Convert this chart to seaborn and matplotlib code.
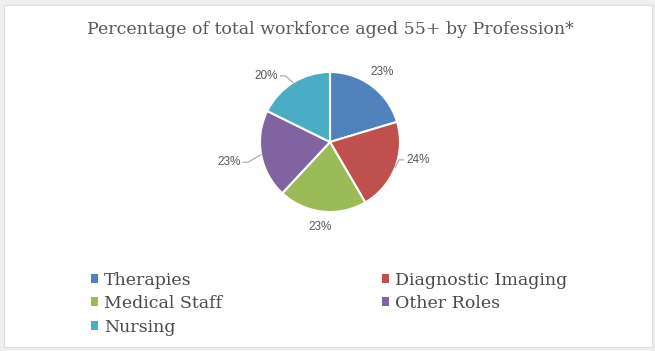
import numpy as np
import matplotlib
matplotlib.use("Agg")
import matplotlib.pyplot as plt
import seaborn as sns
from matplotlib.patches import Patch, Rectangle

professions = ["Therapies", "Diagnostic Imaging", "Medical Staff", "Other Roles", "Nursing"]
pct_aged_55 = [23, 24, 23, 23, 20]
colors = ["#4F81BD", "#C0504D", "#9BBB59", "#8064A2", "#4BACC6"]
title = "Percentage of total workforce aged 55+ by Profession*"

sns.set_theme(style="white")
plt.rcParams["font.family"] = ["DejaVu Serif"]

fig = plt.figure(figsize=(6.55, 3.51), dpi=100)
fig.patch.set_facecolor("#efefef")
fig.add_artist(Rectangle((4 / 655, 4 / 351), 648 / 655, 342 / 351,
                         transform=fig.transFigure, facecolor="white",
                         edgecolor="#dcdcdc", lw=0.8, zorder=0))

ax = fig.add_axes([260 / 655, 139 / 351, 140 / 655, 140 / 351])
wedges, _ = ax.pie(pct_aged_55, colors=colors, startangle=90, counterclock=False,
                   wedgeprops=dict(edgecolor="white", linewidth=1.5))
ax.set_xlim(-1, 1)
ax.set_ylim(-1, 1)
ax.set_aspect("equal")

# label placement: distance (in radii), angle shift (deg) and leader line
dist = [1.24, 1.28, 1.22, 1.47, 1.31]
shift = [0, 10, 0, 1, 12]
leader = [False, True, False, True, True]
for w, v, d, s, ld in zip(wedges, pct_aged_55, dist, shift, leader):
    mid = np.deg2rad((w.theta1 + w.theta2) / 2)
    lab = mid + np.deg2rad(s)
    tx, ty = d * np.cos(lab), d * np.sin(lab)
    if ld:
        sg = -np.sign(tx)
        ex, ey = np.cos(mid), np.sin(mid)
        ax.plot([tx + sg * 0.2, tx + sg * 0.27, ex], [ty, ty, ey],
                color="#a6a6a6", lw=0.8, clip_on=False)
    ax.text(tx, ty, f"{v}%", ha="center", va="center", fontsize=8.5,
            color="#595959", family=["Liberation Sans", "DejaVu Sans"])

fig.text(0.505, 1 - 30 / 351, title, ha="center", va="center", fontsize=12.5, color="#595959")

# reorder so that the legend fills row by row like the original
order = [0, 2, 4, 1, 3]
handles = [Patch(facecolor=colors[i], edgecolor="none") for i in order]
labels = [professions[i] for i in order]
fig.legend(handles, labels, loc="upper left", bbox_to_anchor=(82 / 655, 1 - 263 / 351),
           ncol=2, frameon=False, fontsize=12.5, handlelength=0.42, handleheight=0.42,
           handletextpad=0.35, columnspacing=9.2, labelspacing=0.37, borderpad=0,
           labelcolor="#4a4a4a")

fig.savefig("out.png", dpi=100, facecolor=fig.get_facecolor())
